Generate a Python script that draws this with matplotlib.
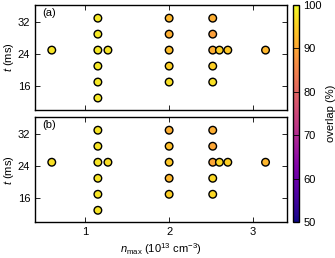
import numpy as np
import matplotlib
matplotlib.use("Agg")
import matplotlib.pyplot as plt

plt.rcParams['font.family'] = ['Liberation Sans', 'DejaVu Sans']
plt.rcParams['mathtext.fontset'] = 'custom'
plt.rcParams['mathtext.rm'] = 'Liberation Sans'
plt.rcParams['mathtext.it'] = 'Liberation Sans:italic'

n_max = [0.6, 1.15, 1.15, 1.15, 1.15, 1.15, 1.15, 1.27,
         2.0, 2.0, 2.0, 2.0, 2.0,
         2.52, 2.52, 2.52, 2.52, 2.52, 2.6, 2.7, 3.15]
t_ms = [25, 33, 29, 25, 21, 17, 13, 25,
        33, 29, 25, 21, 17,
        33, 29, 25, 21, 17, 25, 25, 25]
overlap_a = [97.5, 98, 98, 98, 98, 98, 98, 97.5,
             92, 91, 93, 95, 97,
             91, 89, 91, 95, 97, 95, 94, 92]
overlap_b = [97, 97.5, 97.5, 97.5, 97.5, 97.5, 97.5, 96.5,
             91, 93, 94, 92, 95,
             91, 90, 90, 96, 96, 96, 95, 92]
panel_labels = ['(a)', '(b)']
yticks = [16, 24, 32]
xticks = [1, 2, 3]
cticks = [50, 60, 70, 80, 90, 100]

W, H = 335, 258
fig = plt.figure(figsize=(W / 100, H / 100), dpi=100)

def ax_rect(l, t, r, b):
    return [l / W, 1 - b / H, (r - l) / W, (b - t) / H]

ax1 = fig.add_axes(ax_rect(35, 5, 286.5, 110))
ax2 = fig.add_axes(ax_rect(35, 117, 286.5, 222.3))
cax = fig.add_axes(ax_rect(292.5, 5, 298.5, 222.3))

fs = 8
sc = None
for ax, vals, lab in zip([ax1, ax2], [overlap_a, overlap_b], panel_labels):
    sc = ax.scatter(n_max, t_ms, c=vals, cmap='plasma', vmin=50, vmax=100,
                    s=30, edgecolors='black', linewidths=1.0, zorder=3)
    ax.set_xlim(0.4, 3.4)
    ax.set_ylim(10, 36.3)
    ax.set_xticks(xticks)
    ax.set_yticks(yticks)
    ax.tick_params(direction='in', top=True, right=True, length=3.5,
                   width=0.6, labelsize=fs, colors='black')
    for sp in ax.spines.values():
        sp.set_linewidth(1.0)
    ax.set_ylabel(r'$t$ (ms)', fontsize=fs, labelpad=1)
    ax.text(0.03, 0.97, lab, transform=ax.transAxes, fontsize=fs,
            va='top', ha='left')

ax1.tick_params(labelbottom=False)
ax2.set_xlabel(r'$n_{\rm max}$ (10$^{13}$ cm$^{-3}$)', fontsize=fs, labelpad=3)

cb = fig.colorbar(sc, cax=cax)
cb.set_ticks(cticks)
cb.ax.tick_params(direction='in', length=4.3, width=0.6, labelsize=fs)
cb.outline.set_linewidth(1.0)
cb.set_label('overlap (%)', fontsize=fs, labelpad=3)

fig.savefig('out.png', dpi=100)
